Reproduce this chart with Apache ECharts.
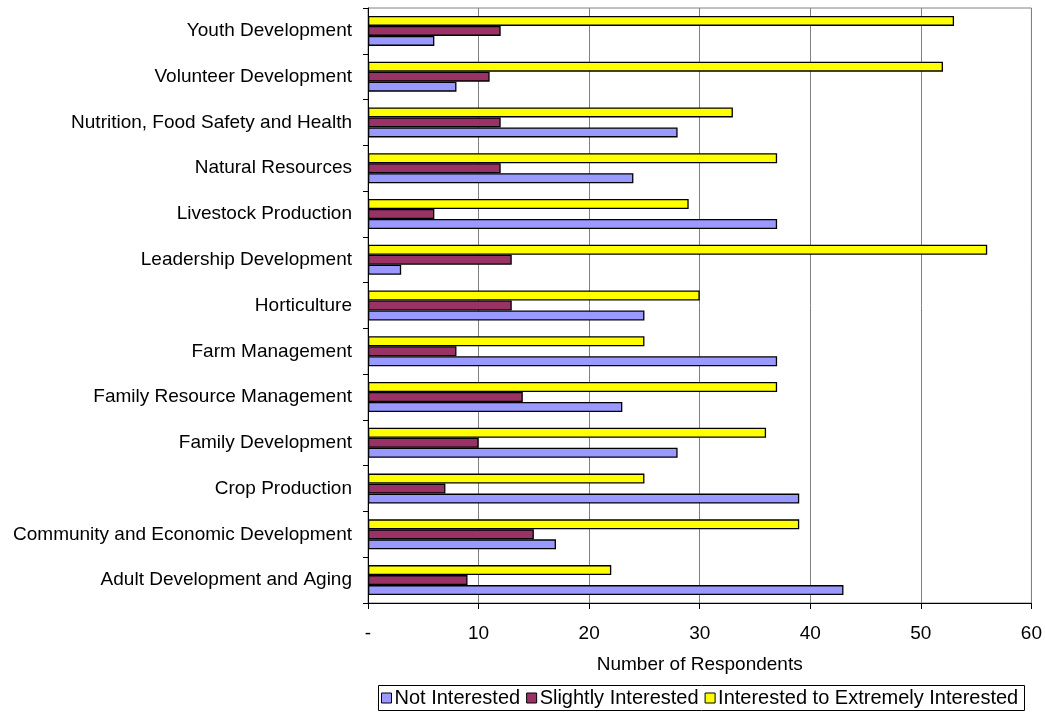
<!DOCTYPE html>
<html>
<head>
<meta charset="utf-8">
<script src="https://cdn.jsdelivr.net/npm/echarts@6/dist/echarts.min.js"></script>
<style>
  html, body { margin: 0; padding: 0; background: #fff; }
  #chart { width: 1045px; height: 721px; }
</style>
</head>
<body>
<div id="chart"></div>
<script>
// Program areas, listed bottom to top along the vertical axis
const categories = [
  'Adult Development and Aging',
  'Community and Economic Development',
  'Crop Production',
  'Family Development',
  'Family Resource Management',
  'Farm Management',
  'Horticulture',
  'Leadership Development',
  'Livestock Production',
  'Natural Resources',
  'Nutrition, Food Safety and Health',
  'Volunteer Development',
  'Youth Development'
];

const notInterested      = [43, 17, 39, 28, 23, 37, 25, 3, 37, 24, 28, 8, 6];
const slightlyInterested = [9, 15, 7, 10, 14, 8, 13, 13, 6, 12, 12, 11, 12];
const interested         = [22, 39, 25, 36, 37, 25, 30, 56, 29, 37, 33, 52, 53];

const seriesNames = ['Not Interested', 'Slightly Interested', 'Interested to Extremely Interested'];
const seriesColors = ['#9999FF', '#993366', '#FFFF00'];

const FONT = '"Liberation Sans", Arial, sans-serif';

const chart = echarts.init(document.getElementById('chart'), null, { renderer: 'canvas' });

const makeSeries = (name, data, color) => ({
  name: name,
  type: 'bar',
  data: data,
  barWidth: 10,
  barGap: '0%',
  itemStyle: { color: color, borderColor: '#000', borderWidth: 1.3 },
  emphasis: { disabled: true },
  animation: false
});

chart.setOption({
  backgroundColor: '#fff',
  textStyle: { fontFamily: FONT },
  grid: {
    left: 368, right: 12, top: 8, bottom: 118,
    show: true, borderColor: '#808080', borderWidth: 1,
    backgroundColor: 'transparent'
  },
  xAxis: {
    type: 'value',
    min: 0, max: 60, interval: 10,
    name: 'Number of Respondents',
    nameLocation: 'middle',
    nameGap: 52,
    nameTextStyle: { fontFamily: FONT, fontSize: 19, color: '#000' },
    axisLine: { show: true, lineStyle: { color: '#000', width: 1 } },
    axisTick: { show: true, inside: false, length: 6, lineStyle: { color: '#000' } },
    axisLabel: {
      fontFamily: FONT, fontSize: 19, color: '#000', margin: 21,
      formatter: v => (v === 0 ? '-' : String(v))
    },
    splitLine: { show: true, lineStyle: { color: '#808080', width: 1 } }
  },
  yAxis: {
    type: 'category',
    data: categories,
    axisLine: { show: true, lineStyle: { color: '#000', width: 1 } },
    axisTick: { show: true, inside: false, length: 5, alignWithLabel: false, lineStyle: { color: '#000' } },
    axisLabel: { fontFamily: FONT, fontSize: 19, color: '#000', margin: 16 },
    splitLine: { show: false }
  },
  // legend frame
  graphic: [{
    type: 'rect',
    shape: { x: 378.5, y: 685.5, width: 646, height: 25 },
    style: { fill: '#fff', stroke: '#000', lineWidth: 1 },
    z: 0
  }],
  legend: {
    data: seriesNames,
    left: 377,
    top: 686,
    orient: 'horizontal',
    icon: 'rect',
    itemWidth: 10,
    itemHeight: 10,
    itemGap: 6,
    padding: [2, 4, 2, 4],
    textStyle: { fontFamily: FONT, fontSize: 20, color: '#000', padding: [0, 0, 0, -2] },
    itemStyle: { borderColor: '#000', borderWidth: 1 },
    selectedMode: false,
    z: 5
  },
  animation: false,
  // drawn top-down within each category: bright bar above, pale bar at the bottom
  series: [
    makeSeries(seriesNames[2], interested, seriesColors[2]),
    makeSeries(seriesNames[1], slightlyInterested, seriesColors[1]),
    makeSeries(seriesNames[0], notInterested, seriesColors[0])
  ]
});
</script>
</body>
</html>
